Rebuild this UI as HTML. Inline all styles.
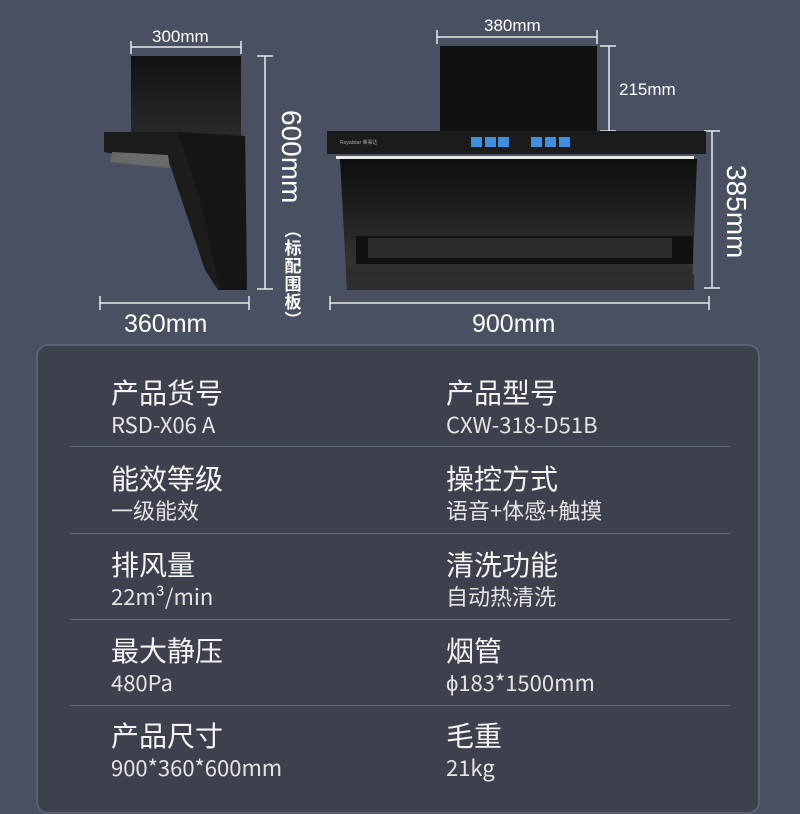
<!DOCTYPE html>
<html><head><meta charset="utf-8"><style>
body{margin:0;width:800px;height:800px;background:#485061;overflow:hidden;font-family:"Liberation Sans","Noto Sans CJK SC",sans-serif;position:relative}
.panel{position:absolute;left:36px;top:344px;width:724px;height:470px;background:#3c414d;border:2px solid #5a6170;border-radius:12px;box-sizing:border-box}
.t{position:absolute;color:#f4f4f4;font-size:28px;line-height:30px;white-space:nowrap;font-family:"Noto Sans CJK SC",sans-serif;font-weight:normal}
.v{position:absolute;color:#e4e4e4;font-size:22px;line-height:24px;white-space:nowrap;font-family:"Noto Sans CJK SC",sans-serif}
.hr{position:absolute;left:70px;width:660px;height:1px;background:#626876}
.d{position:absolute;color:#fff;white-space:nowrap;line-height:1}
</style></head><body>
<svg width="800" height="340" style="position:absolute;left:0;top:0">
<defs>
<linearGradient id="g1" x1="0" y1="0" x2="0" y2="1"><stop offset="0" stop-color="#111"/><stop offset="1" stop-color="#2a2a2a"/></linearGradient>
<linearGradient id="g2" x1="0" y1="0" x2="0" y2="1"><stop offset="0" stop-color="#0d0d0d"/><stop offset="0.8" stop-color="#333"/><stop offset="1" stop-color="#222"/></linearGradient>
</defs>
<g stroke="#e8e8e8" stroke-width="1.5" fill="none">
<line x1="131" y1="47" x2="241" y2="47"/><line x1="131" y1="41" x2="131" y2="54"/><line x1="241" y1="41" x2="241" y2="54"/>
<line x1="265" y1="56" x2="265" y2="289"/><line x1="257" y1="56" x2="273" y2="56"/><line x1="257" y1="289" x2="273" y2="289"/>
<line x1="100" y1="303" x2="249" y2="303"/><line x1="100" y1="296" x2="100" y2="310"/><line x1="249" y1="296" x2="249" y2="310"/>
<line x1="437" y1="37" x2="597" y2="37"/><line x1="437" y1="30" x2="437" y2="44"/><line x1="597" y1="30" x2="597" y2="44"/>
<line x1="609" y1="46" x2="609" y2="131"/><line x1="600" y1="46" x2="616" y2="46"/><line x1="600" y1="131" x2="616" y2="131"/>
<line x1="712" y1="131" x2="712" y2="288"/><line x1="704" y1="131" x2="720" y2="131"/><line x1="704" y1="288" x2="720" y2="288"/>
<line x1="330" y1="303" x2="709" y2="303"/><line x1="330" y1="296" x2="330" y2="310"/><line x1="709" y1="296" x2="709" y2="310"/>
</g>
<rect x="131" y="56" width="110" height="80" fill="url(#g1)"/>
<polygon points="104,132 178,132 245,136 247,290 218,290 205,270 170,165 104,152" fill="#1c1c1c"/>
<polygon points="112,152 168,155 170,168 110,162" fill="#6a6a6a"/>
<polygon points="178,132 245,136 247,290 220,290 200,200" fill="#161616"/>
<rect x="440" y="46" width="157" height="86" fill="#111"/>
<rect x="327" y="131" width="379" height="23" fill="#1b1b1b"/>
<rect x="336" y="156" width="358" height="3" fill="#e8e8e8"/>
<polygon points="340,159 697,159 692,290 347,290" fill="url(#g2)"/>
<rect x="356" y="236" width="337" height="28" fill="#111"/>
<rect x="368" y="238" width="304" height="20" fill="#2b2b2b"/>
<rect x="347" y="275" width="347" height="15" fill="#2e2e2e"/>
<g fill="#3d8fe0"><rect x="471" y="137" width="11" height="10"/><rect x="485" y="137" width="11" height="10"/><rect x="498" y="137" width="11" height="10"/><rect x="531" y="137" width="11" height="10"/><rect x="545" y="137" width="11" height="10"/><rect x="559" y="137" width="11" height="10"/></g>
<text x="340" y="144" fill="#aaa" font-size="5" font-family="Liberation Sans">Royalstar 荣事达</text>
</svg>
<div class="d" style="left:152px;top:28px;font-size:17px">300mm</div>
<div class="d" style="left:484px;top:17px;font-size:17px">380mm</div>
<div class="d" style="left:619px;top:81px;font-size:17px">215mm</div>
<div class="d" style="left:124px;top:312px;font-size:25px">360mm</div>
<div class="d" style="left:472px;top:312px;font-size:25px">900mm</div>
<div class="d" style="top:110px;font-size:28px;transform:rotate(90deg);transform-origin:0 0;left:305px">600mm</div>
<div class="d" style="left:283px;top:220px;font-size:17px;line-height:18px;width:20px;text-align:center;font-weight:bold;font-family:'Noto Sans CJK SC',sans-serif">︵<br>标<br>配<br>围<br>板<br>︶</div>
<div class="d" style="top:165px;font-size:28px;transform:rotate(90deg);transform-origin:0 0;left:750px">385mm</div>
<div class="panel"></div>
<div class="t" style="left:111px;top:377px">产品货号</div><div class="v" style="left:111px;top:412px">RSD-X06 A</div>
<div class="t" style="left:446px;top:377px">产品型号</div><div class="v" style="left:446px;top:412px">CXW-318-D51B</div>
<div class="hr" style="top:446px"></div>
<div class="t" style="left:111px;top:463px">能效等级</div><div class="v" style="left:111px;top:498px">一级能效</div>
<div class="t" style="left:446px;top:463px">操控方式</div><div class="v" style="left:446px;top:498px">语音+体感+触摸</div>
<div class="hr" style="top:533px"></div>
<div class="t" style="left:111px;top:549px">排风量</div><div class="v" style="left:111px;top:584px">22m³/min</div>
<div class="t" style="left:446px;top:549px">清洗功能</div><div class="v" style="left:446px;top:584px">自动热清洗</div>
<div class="hr" style="top:619px"></div>
<div class="t" style="left:111px;top:635px">最大静压</div><div class="v" style="left:111px;top:670px">480Pa</div>
<div class="t" style="left:446px;top:635px">烟管</div><div class="v" style="left:446px;top:670px">ϕ183*1500mm</div>
<div class="hr" style="top:705px"></div>
<div class="t" style="left:111px;top:720px">产品尺寸</div><div class="v" style="left:111px;top:755px">900*360*600mm</div>
<div class="t" style="left:446px;top:720px">毛重</div><div class="v" style="left:446px;top:755px">21kg</div>
</body></html>
